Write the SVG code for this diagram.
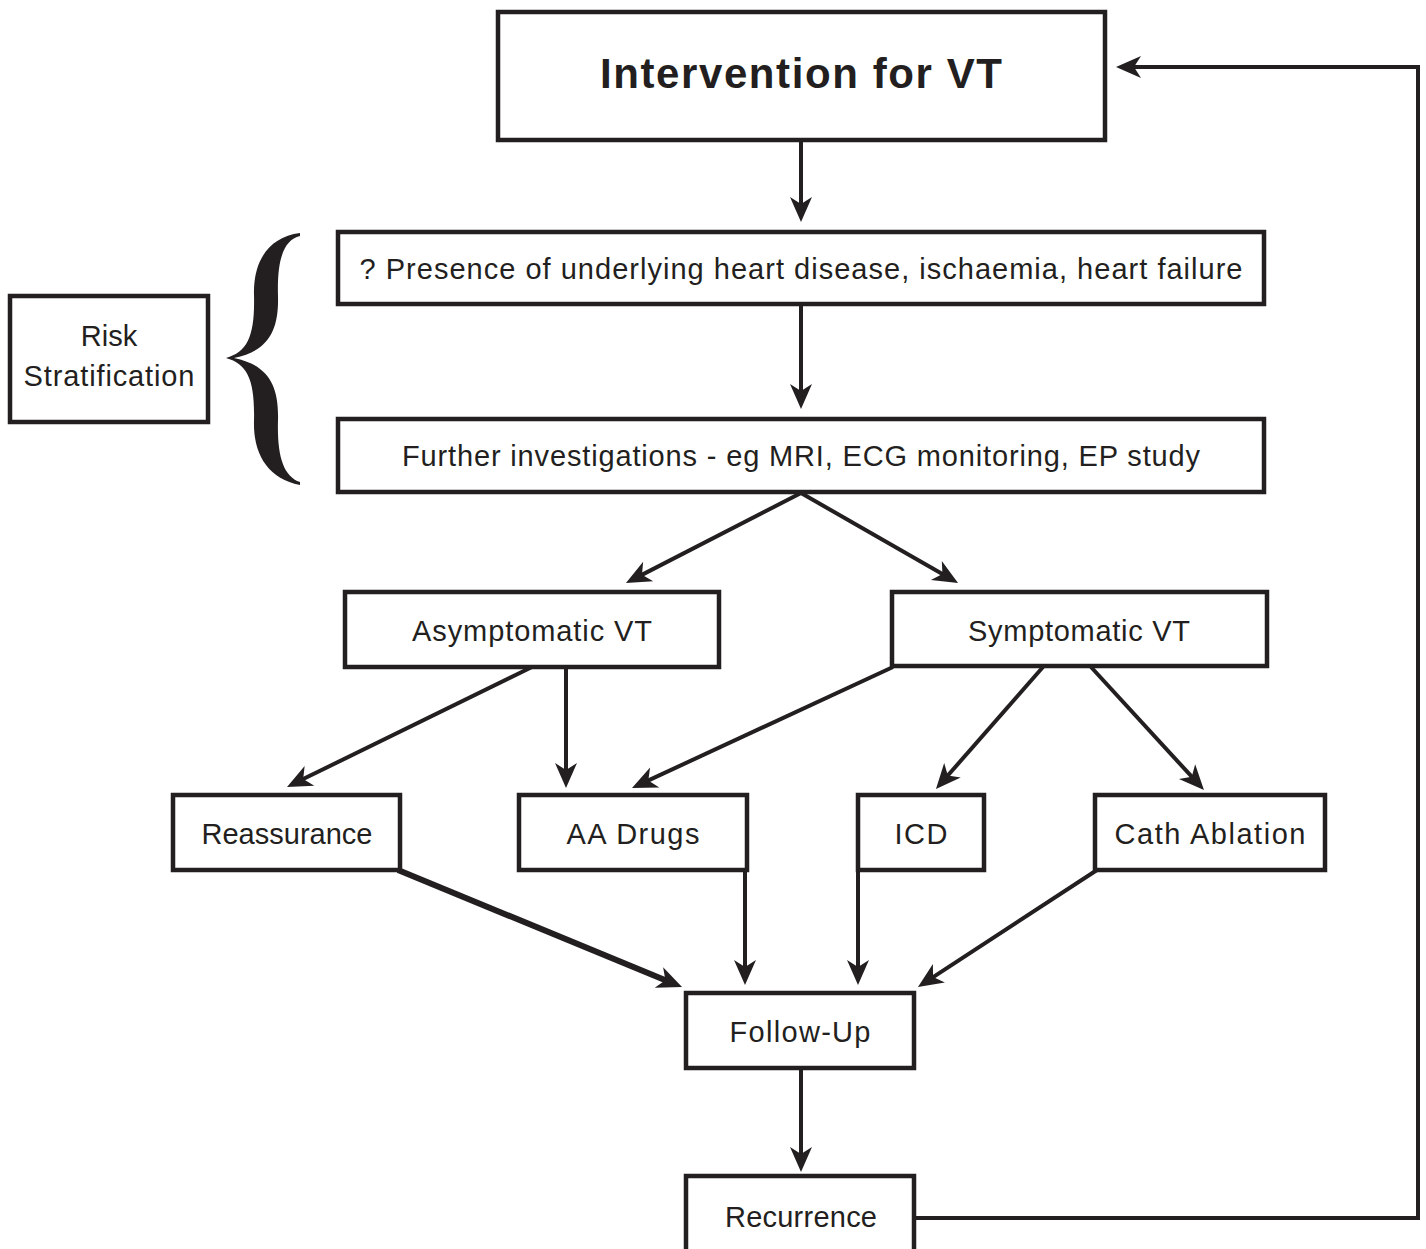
<svg xmlns="http://www.w3.org/2000/svg" width="1426" height="1249" viewBox="0 0 1426 1249">
<defs>
<style>
.box{fill:#fff;stroke:#231f20;stroke-width:4.5}
.t{font-family:"Liberation Sans",Arial,sans-serif;font-size:29px;fill:#231f20;text-anchor:middle}
.title{font-family:"Liberation Sans",Arial,sans-serif;font-size:42px;font-weight:bold;fill:#231f20;text-anchor:middle}
.c{fill:none;stroke:#231f20;stroke-width:4}
.thick{stroke-width:6}
</style>
<marker id="ah" markerUnits="userSpaceOnUse" viewBox="-2 -13 29 26" refX="11" refY="0" markerWidth="29" markerHeight="26" orient="auto">
<path d="M0,-11 L25,0 L0,11 L7,0 Z" fill="#231f20"/>
</marker>
</defs>
<rect width="1426" height="1249" fill="#fff"/>

<g id="connectors">
<line class="c" x1="801" y1="140" x2="801" y2="208" marker-end="url(#ah)"/>
<line class="c" x1="801" y1="304" x2="801" y2="395" marker-end="url(#ah)"/>
<line class="c" x1="801" y1="493" x2="638.4" y2="576.6" marker-end="url(#ah)"/>
<line class="c" x1="801" y1="493" x2="945.9" y2="576" marker-end="url(#ah)"/>
<line class="c" x1="532" y1="667" x2="299.6" y2="780.8" marker-end="url(#ah)"/>
<line class="c" x1="566" y1="667" x2="566" y2="774" marker-end="url(#ah)"/>
<line class="c" x1="893" y1="667" x2="644.7" y2="782.1" marker-end="url(#ah)"/>
<line class="c" x1="1043" y1="667" x2="945.2" y2="778.5" marker-end="url(#ah)"/>
<line class="c" x1="1091" y1="667" x2="1194.5" y2="779.7" marker-end="url(#ah)"/>
<line class="c thick" x1="398" y1="870" x2="669.1" y2="981.7" marker-end="url(#ah)"/>
<line class="c" x1="745" y1="870" x2="745" y2="971" marker-end="url(#ah)"/>
<line class="c" x1="858" y1="870" x2="858" y2="971" marker-end="url(#ah)"/>
<line class="c" x1="1097" y1="870" x2="929.7" y2="979.3" marker-end="url(#ah)"/>
<line class="c" x1="801" y1="1068" x2="801" y2="1158" marker-end="url(#ah)"/>
<polyline class="c" points="914,1218 1418,1218 1418,67 1130,67" marker-end="url(#ah)"/>
</g>

<g id="brace">
<path fill="#231f20" d="M300,233 C268,237 253,262 254,295 C255,335 248,352 226,358 C248,364 255,381 254,421 C253,454 268,479 300,485 L300,482 C283,476 277,455 278,420 C279,385 268,365 234,358 C268,351 279,331 278,296 C277,261 283,240 300,236 Z"/>
</g>

<g id="intervention">
<rect class="box" x="498" y="12" width="607" height="128"/>
<text class="title" x="801" y="88" textLength="402">Intervention for VT</text>
</g>
<g id="presence">
<rect class="box" x="338" y="232" width="926" height="72"/>
<text class="t" x="801" y="279" textLength="883">? Presence of underlying heart disease, ischaemia, heart failure</text>
</g>
<g id="further">
<rect class="box" x="338" y="419" width="926" height="73"/>
<text class="t" x="801" y="466" textLength="798">Further investigations - eg MRI, ECG monitoring, EP study</text>
</g>
<g id="risk">
<rect class="box" x="10" y="296" width="198" height="126"/>
<text class="t" x="109" y="346">Risk</text>
<text class="t" x="109" y="386" textLength="171">Stratification</text>
</g>
<g id="asymptomatic">
<rect class="box" x="345" y="592" width="374" height="75"/>
<text class="t" x="532" y="641" textLength="240">Asymptomatic VT</text>
</g>
<g id="symptomatic">
<rect class="box" x="892" y="592" width="375" height="74"/>
<text class="t" x="1079" y="641" textLength="222">Symptomatic VT</text>
</g>
<g id="reassurance">
<rect class="box" x="173" y="795" width="227" height="75"/>
<text class="t" x="287" y="844" textLength="171">Reassurance</text>
</g>
<g id="aadrugs">
<rect class="box" x="519" y="795" width="228" height="75"/>
<text class="t" x="633" y="844" textLength="133">AA Drugs</text>
</g>
<g id="icd">
<rect class="box" x="858" y="795" width="126" height="75"/>
<text class="t" x="921" y="844" textLength="53">ICD</text>
</g>
<g id="cathablation">
<rect class="box" x="1095" y="795" width="230" height="75"/>
<text class="t" x="1210" y="844" textLength="191">Cath Ablation</text>
</g>
<g id="followup">
<rect class="box" x="686" y="993" width="228" height="75"/>
<text class="t" x="800" y="1042" textLength="141">Follow-Up</text>
</g>
<g id="recurrence">
<rect class="box" x="686" y="1176" width="228" height="90"/>
<text class="t" x="801" y="1227" textLength="152">Recurrence</text>
</g>
</svg>
